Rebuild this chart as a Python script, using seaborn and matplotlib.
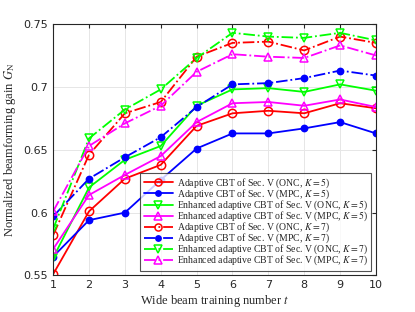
# -*- coding: utf-8 -*-
import seaborn as sns
import matplotlib
matplotlib.use('Agg')
import matplotlib.pyplot as plt

# Wide beam training number
t = [1, 2, 3, 4, 5, 6, 7, 8, 9, 10]

# K = 5 curves
onc_k5 = [0.551, 0.601, 0.627, 0.638, 0.669, 0.679, 0.681, 0.679, 0.687, 0.683]
mpc_k5 = [0.565, 0.594, 0.600, 0.626, 0.651, 0.663, 0.663, 0.667, 0.672, 0.663]
enh_onc_k5 = [0.564, 0.620, 0.642, 0.653, 0.685, 0.698, 0.699, 0.696, 0.702, 0.697]
enh_mpc_k5 = [0.571, 0.614, 0.630, 0.645, 0.672, 0.687, 0.688, 0.685, 0.690, 0.684]

# K = 7 curves
onc_k7 = [0.582, 0.646, 0.679, 0.688, 0.724, 0.735, 0.736, 0.729, 0.740, 0.735]
mpc_k7 = [0.597, 0.627, 0.644, 0.660, 0.684, 0.702, 0.703, 0.707, 0.713, 0.709]
enh_onc_k7 = [0.587, 0.659, 0.682, 0.698, 0.723, 0.743, 0.740, 0.739, 0.743, 0.737]
enh_mpc_k7 = [0.601, 0.653, 0.671, 0.685, 0.712, 0.726, 0.724, 0.723, 0.733, 0.725]

labels = [
    r'Adaptive CBT of Sec. V (ONC, $K=5$)',
    r'Adaptive CBT of Sec. V (MPC, $K=5$)',
    r'Enhanced adaptive CBT of Sec. V (ONC, $K=5$)',
    r'Enhanced adaptive CBT of Sec. V (MPC, $K=5$)',
    r'Adaptive CBT of Sec. V (ONC, $K=7$)',
    r'Adaptive CBT of Sec. V (MPC, $K=7$)',
    r'Enhanced adaptive CBT of Sec. V (ONC, $K=7$)',
    r'Enhanced adaptive CBT of Sec. V (MPC, $K=7$)',
]

sns.set_style('whitegrid')
plt.rcParams['mathtext.fontset'] = 'stix'

fig = plt.figure(figsize=(4.15, 3.12), dpi=100)
ax = fig.add_axes([0.128, 0.117, 0.778, 0.806])

series = [onc_k5, mpc_k5, enh_onc_k5, enh_mpc_k5, onc_k7, mpc_k7, enh_onc_k7, enh_mpc_k7]
colors = ['#ff0000', '#0000ff', '#00ff00', '#ff00ff'] * 2
markers = ['o', '.', 'v', '^'] * 2
styles = ['-'] * 4 + ['-.'] * 4

for vals, lab, c, m, ls in zip(series, labels, colors, markers, styles):
    face = c if m == '.' else 'none'
    ms = 9 if m == '.' else 6
    sns.lineplot(x=t, y=vals, ax=ax, color=c, marker=m, linestyle=ls,
                 linewidth=1.3, markersize=ms, markerfacecolor=face,
                 markeredgecolor=c, markeredgewidth=1.1, label=lab)

ax.set_xlim(1, 10)
ax.set_ylim(0.55, 0.75)
ax.set_xticks(t)
ax.set_yticks([0.55, 0.6, 0.65, 0.7, 0.75])
ax.set_yticklabels(['0.55', '0.6', '0.65', '0.7', '0.75'])
ax.tick_params(direction='in', length=3, labelsize=8, colors='#262626',
               top=True, right=True)
ax.grid(True, color='#e6e6e6', linewidth=0.7)
for s in ax.spines.values():
    s.set_color('#262626')
    s.set_linewidth(0.8)

ax.set_xlabel(r'Wide beam training number $t$', family='Liberation Serif',
              fontsize=9, labelpad=2)
ax.set_ylabel(r'Normalized beamforming gain $G_{\rm N}$',
              family='Liberation Serif', fontsize=9, labelpad=4)

leg = ax.legend(loc='lower right', prop={'family': 'Liberation Serif', 'size': 7},
                frameon=True, fancybox=False, edgecolor='#262626',
                handlelength=3.0, handleheight=0.5, labelspacing=-0.25,
                markerscale=0.85, borderpad=0.35, handletextpad=0.4,
                borderaxespad=0.5)
leg.get_frame().set_linewidth(0.8)

plt.savefig('out.png', dpi=100)
